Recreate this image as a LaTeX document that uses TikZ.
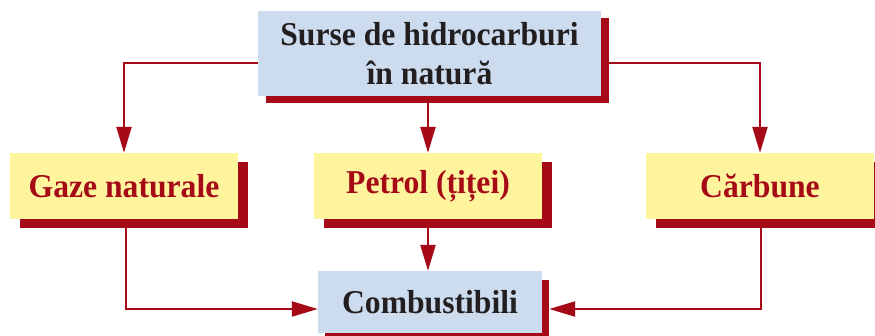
\documentclass[tikz,border=0pt]{standalone}
\usepackage{fontspec}
\setmainfont[FakeStretch=0.95]{Liberation Serif}
\usetikzlibrary{arrows.meta,shadows}
\definecolor{dred}{HTML}{A50A16}
\definecolor{lblue}{HTML}{CCDCEE}
\definecolor{lyellow}{HTML}{FFF49E}
\definecolor{dgray}{HTML}{231F20}
\tikzset{
  x=1pt,y=1pt,
  box/.style={draw=none,inner sep=0pt,align=center,
    font=\bfseries\fontsize{33.3}{39}\selectfont},
  bluebox/.style={box,fill=lblue,text=dgray},
  yelbox/.style={box,fill=lyellow,text=dred,minimum width=228pt,minimum height=66pt,
    general shadow={fill=dred,shadow xshift=10pt,shadow yshift=-9pt}},
  conn/.style={draw=dred,line width=2.3pt},
  arr/.style={conn,-{Triangle[length=26pt,width=15pt]}},
}
\begin{document}
\begin{tikzpicture}
\useasboundingbox (0,0) rectangle (875,-335);
\node[bluebox,minimum width=343pt,minimum height=85pt,
  general shadow={fill=dred,shadow xshift=8pt,shadow yshift=-7pt}]
  (top) at (429.5,-53.5) {Surse de hidrocarburi\\în natură};
\node[yelbox] (gaze) at (124,-186) {Gaze naturale};
\node[yelbox] (petrol) at (428,-186) {Petrol (țiței)};
\node[yelbox] (carb) at (760,-186) {Cărbune};
\node[bluebox,minimum width=224pt,minimum height=62pt,
  general shadow={fill=dred,shadow xshift=7pt,shadow yshift=-9pt}]
  (comb) at (430,-302) {Combustibili};
\draw[arr] ([yshift=-9.5pt]top.west) -| (gaze.north);
\draw[arr] ([yshift=-9.5pt]top.east) -| (carb.north);
\draw[arr] (petrol.north |- top.south) -- (petrol.north);
\draw[arr] (petrol.south) -- (petrol.south |- comb.north);
\draw[arr] ([xshift=2pt,yshift=-9pt]gaze.south) |- ([yshift=-7pt]comb.west);
\draw[arr] ([xshift=1pt,yshift=-9pt]carb.south) |- ([xshift=7pt,yshift=-7pt]comb.east);
\end{tikzpicture}
\end{document}
